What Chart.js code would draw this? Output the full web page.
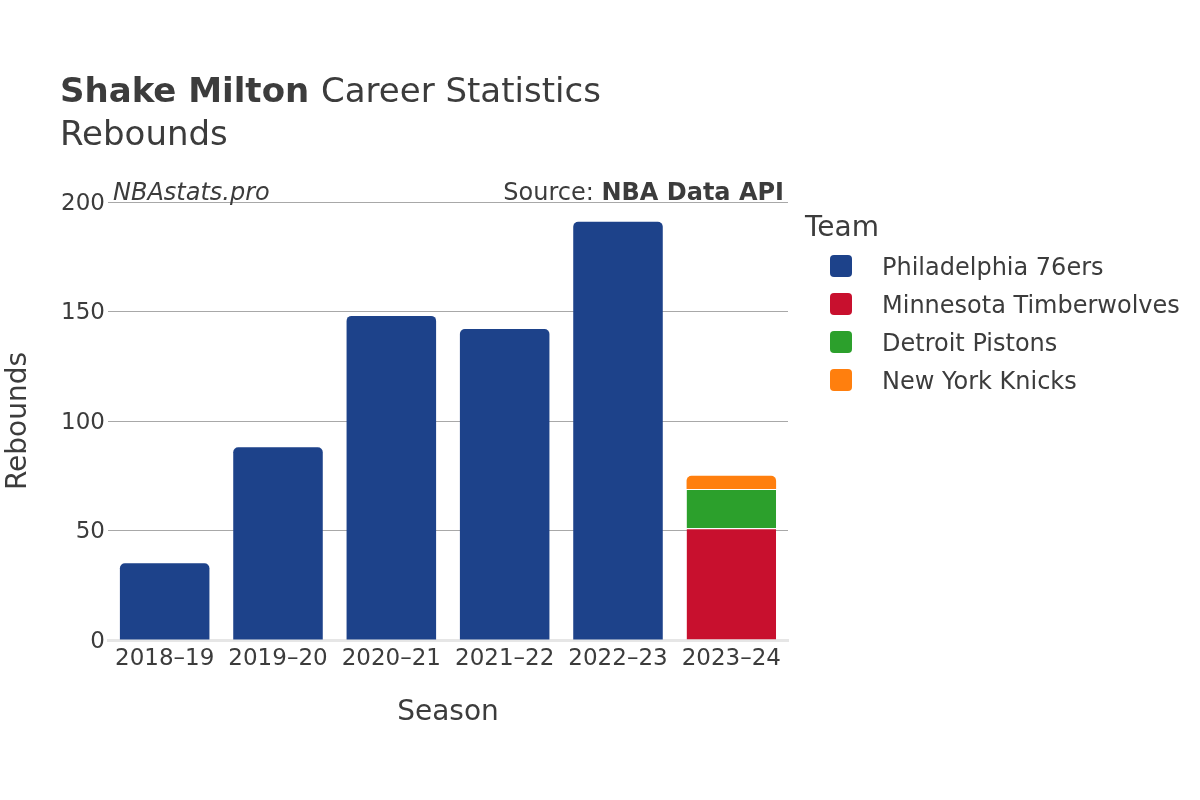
<!DOCTYPE html>
<html lang="en">
<head>
    <meta charset="UTF-8">
    <title>Shake Milton Career Statistics - Rebounds</title>
    <script src="https://cdn.jsdelivr.net/npm/chart.js"></script>
    <style>
        body, html { margin: 0; padding: 0; background: #fff; }
        #wrap { width: 1200px; height: 800px; position: relative; }
    </style>
</head>
<body>
    <div id="wrap"><canvas id="chart" width="1200" height="800"></canvas></div>
    <script>
        // data
        var seasons = ['2018–19', '2019–20', '2020–21', '2021–22', '2022–23', '2023–24'];
        var teams = ['Philadelphia 76ers', 'Minnesota Timberwolves', 'Detroit Pistons', 'New York Knicks'];
        var teamColors = ['#1d428a', '#c8102e', '#2ca02c', '#ff7f0e'];
        var phiReb = [35, 88, 148, 142, 191, null];
        var minReb = [null, null, null, null, null, 51];
        var detReb = [null, null, null, null, null, 18];
        var nykReb = [null, null, null, null, null, 6];
        var yTicks = [0, 50, 100, 150, 200];

        var FONT = '"DejaVu Sans", sans-serif';
        var TEXT = '#3c3c3c';
        var series = [phiReb, minReb, detReb, nykReb];

        // only the top segment of each stack gets rounded corners
        function topRadius(ctx) {
            var di = ctx.datasetIndex, i = ctx.dataIndex;
            for (var k = di + 1; k < series.length; k++) {
                if (series[k][i] != null) return 0;
            }
            return { topLeft: 5, topRight: 5, bottomLeft: 0, bottomRight: 0 };
        }

        var datasets = teams.map(function(name, k) {
            return {
                label: name,
                data: series[k],
                backgroundColor: teamColors[k],
                borderColor: '#ffffff',
                borderWidth: k === 1 || k === 2 ? { top: 1, left: 0, right: 0, bottom: 0 } : 0,
                borderSkipped: false,
                borderRadius: topRadius,
                categoryPercentage: 1.0,
                barPercentage: 0.79
            };
        });

        var textPlugin = {
            id: 'texts',
            beforeDraw: function(chart) {
                var c = chart.ctx;
                c.save();
                c.fillStyle = '#fff';
                c.fillRect(0, 0, chart.width, chart.height);
                c.restore();
            },
            afterDraw: function(chart) {
                var c = chart.ctx;
                var area = chart.chartArea;
                c.save();
                c.fillStyle = TEXT;
                c.textBaseline = 'alphabetic';
                c.textAlign = 'left';

                // title
                c.font = 'bold 34px ' + FONT;
                c.fillText('Shake Milton', 60, 102);
                var w = c.measureText('Shake Milton ').width;
                c.font = '34px ' + FONT;
                c.fillText('Career Statistics', 60 + w, 102);
                c.fillText('Rebounds', 60, 145);

                // watermark / source
                c.font = 'italic 24px ' + FONT;
                c.fillText('NBAstats.pro', 113, 200);
                c.textAlign = 'right';
                c.font = 'bold 24px ' + FONT;
                c.fillText('NBA Data API', 784, 200);
                var bw = c.measureText('NBA Data API').width;
                c.font = '24px ' + FONT;
                c.fillText('Source: ', 784 - bw, 200);

                // axis titles
                c.textAlign = 'center';
                c.font = '28px ' + FONT;
                c.fillText('Season', (area.left + area.right) / 2, 720);
                c.save();
                c.translate(26, (area.top + area.bottom) / 2);
                c.rotate(-Math.PI / 2);
                c.fillText('Rebounds', 0, 0);
                c.restore();

                // legend
                c.textAlign = 'left';
                c.font = '28px ' + FONT;
                c.fillText('Team', 805, 236);
                c.font = '24px ' + FONT;
                teams.forEach(function(name, k) {
                    var y = 266 + k * 38;
                    c.fillStyle = teamColors[k];
                    c.beginPath();
                    c.roundRect(830, y - 11, 22, 22, 4);
                    c.fill();
                    c.fillStyle = TEXT;
                    c.fillText(name, 882, y + 9);
                });
                c.restore();
            }
        };

        new Chart(document.getElementById('chart').getContext('2d'), {
            type: 'bar',
            data: { labels: seasons, datasets: datasets },
            options: {
                responsive: false,
                animation: false,
                layout: { padding: { left: 0, right: 412, top: 202, bottom: 0 } },
                plugins: {
                    legend: { display: false },
                    tooltip: { enabled: false }
                },
                scales: {
                    x: {
                        stacked: true,
                        grid: { display: false, drawTicks: false },
                        border: { display: true, color: '#e6e6e6', width: 3 },
                        ticks: { color: TEXT, font: { family: FONT, size: 23 }, padding: 5, maxRotation: 0 },
                        afterFit: function(scale) { scale.height = 160; }
                    },
                    y: {
                        stacked: true,
                        min: 0,
                        max: 200,
                        afterBuildTicks: function(scale) {
                            scale.ticks = yTicks.map(function(v) { return { value: v }; });
                        },
                        grid: {
                            color: function(ctx) { return ctx.tick && ctx.tick.value === 0 ? 'rgba(0,0,0,0)' : '#a8a8a8'; },
                            lineWidth: 1,
                            drawTicks: false
                        },
                        border: { display: false },
                        ticks: { color: TEXT, font: { family: FONT, size: 23 }, padding: 3, labelOffset: 2 },
                        afterFit: function(scale) { scale.width = 108; }
                    }
                }
            },
            plugins: [textPlugin]
        });
    </script>
</body>
</html>
